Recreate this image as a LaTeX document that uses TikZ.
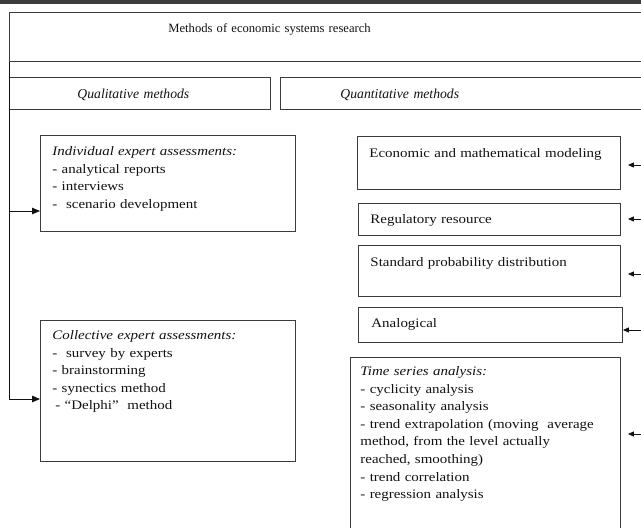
\documentclass[tikz,border=0pt]{standalone}
\usepackage{fontspec}
\setmainfont{Liberation Serif}
\newfontfamily\widefont{Liberation Serif}[FakeStretch=1.15]
\usetikzlibrary{arrows.meta,positioning,calc}
\definecolor{MethInk}{HTML}{111111}
\definecolor{MethFrame}{HTML}{3C3C3C}

\begin{document}
\begin{tikzpicture}[x=1pt,y=-1pt,>=Triangle]
  \tikzset{
    box/.style={draw=MethFrame,line width=.9pt,anchor=north west,align=left,inner ysep=0pt,
      text=MethInk,font=\widefont\fontsize{13}{17.6}\selectfont},
    head/.style={font=\fontsize{13.7}{17.6}\selectfont},
    flow/.style={-{Triangle[length=8pt,width=6.5pt]},line width=.9pt,draw=MethInk},
    inflow/.style={-{Triangle[length=6pt,width=5pt]},line width=.9pt,draw=MethInk,shorten >=7pt}
  }
  \useasboundingbox (0,0) rectangle (641,528);
  \clip (0,0) rectangle (641,528);
  \fill[MethFrame] (0,0) rectangle (641,4);
  \node[box,font=\fontsize{12.6}{17.6}\selectfont,inner xsep=159pt,text width=373pt,text height=20pt,text depth=29pt] (title) at (9,12)
    {Methods of economic systems research};
  \node[box,head,inner xsep=68pt,text width=125pt,text height=21pt,text depth=11pt] (qual) at (9,77)
    {\textit{Qualitative methods}};
  \node[box,head,inner xsep=60pt,text width=300pt,text height=21pt,text depth=11pt] (quant) at (280,77)
    {\textit{Quantitative methods}};
  \node[box,inner xsep=12pt,text width=231pt,text height=20pt,text depth=76pt] (indiv) at (40,135)
    {\textit{Individual expert assessments:}\\- analytical reports\\- interviews\\-\ \ scenario development};
  \node[box,inner xsep=12pt,text width=231pt,text height=19pt,text depth=122pt] (coll) at (40,320)
    {\textit{Collective expert assessments:}\\-\ \ survey by experts\\- brainstorming\\- synectics method\\\hspace*{3pt}- “Delphi”\ \ method};
  \node[box,inner xsep=12pt,text width=239pt,text height=21pt,text depth=32pt] (econ) at (357,136)
    {Economic and mathematical modeling};
  \node[box,inner xsep=12pt,text width=238pt,text height=20pt,text depth=12pt] (reg) at (358,203)
    {Regulatory resource};
  \node[box,inner xsep=12pt,text width=238pt,text height=21pt,text depth=30pt] (std) at (358,245)
    {Standard probability distribution};
  \node[box,inner xsep=13pt,text width=238pt,text height=20pt,text depth=15pt] (anal) at (358,307)
    {Analogical};
  \node[box,inner xsep=10pt,text width=250pt,text height=18pt,text depth=220pt] (ts) at (350,357)
    {\textit{Time series analysis:}\\- cyclicity analysis\\- seasonality analysis\\- trend extrapolation (moving\ \ average\\method, from the level actually\\reached, smoothing)\\- trend correlation\\- regression analysis};
  \coordinate (q1) at (9,211);
  \coordinate (q2) at (9,399);
  \draw[flow] (title.south west) -- (q2) -- (q2 -| coll.west);
  \draw[flow] (q1) -- (q1 -| indiv.west);
  \coordinate (p1) at (660,165);
  \coordinate (p2) at (660,219);
  \coordinate (p3) at (660,274);
  \coordinate (p4) at (660,330);
  \coordinate (p5) at (660,434);
  \draw[inflow] (p1) -- (p1 -| econ.east);
  \draw[inflow] (p2) -- (p2 -| reg.east);
  \draw[inflow] (p3) -- (p3 -| std.east);
  \draw[inflow,shorten >=0pt] (p4) -- (p4 -| anal.east);
  \draw[inflow] (p5) -- (p5 -| ts.east);
\end{tikzpicture}
\end{document}
